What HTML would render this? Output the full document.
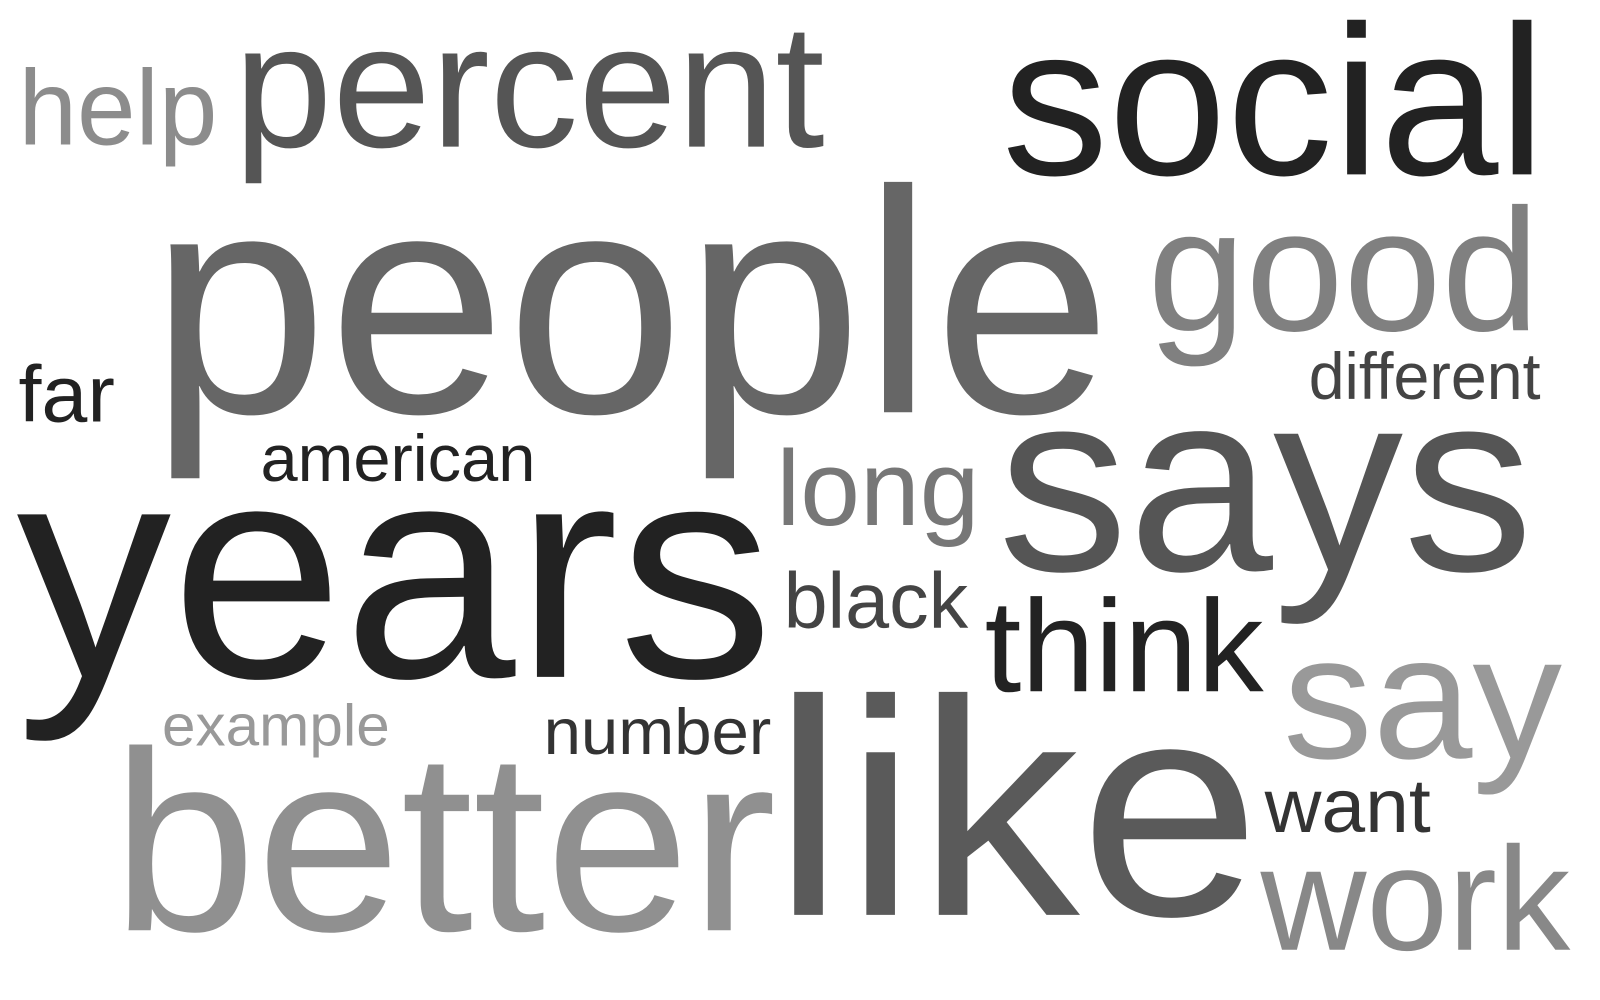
<!DOCTYPE html>
<html>
<head>
<meta charset="utf-8">
<style>
  html, body { margin: 0; padding: 0; background: #ffffff; }
  svg { display: block; }
  text { font-family: "Liberation Sans", Arial, sans-serif; }
</style>
</head>
<body>
<svg id="cloud" width="1600" height="1000" viewBox="0 0 1560 975" xmlns="http://www.w3.org/2000/svg"></svg>
<script>
const words = ["help","percent","social","people","good","far","different","american","long","says","years","black","think","say","example","number","better","like","want","work"];
const sizes = [104,172,208,310,170,78,64,64,104,252,300,77,128,172,57,63,250,300,74,144];
const xs = [18,228,977,146,1119,18,1276,254,757,973,16,764,960,1251,158,530,109,753,1233,1229];
const baselines = [141,143,170,402,322,411,389,469,512,556,660,612,674,739,727,735,907,892,811,926];
const widths = [194,576,530,938,382,94,226,268,198,522,738,180,272,272,222,222,648,476,162,302];
const colors = ["#8c8c8c","#555555","#222222","#666666","#808080","#222222","#444444","#222222","#777777","#555555","#222222","#444444","#222222","#999999","#999999","#333333","#909090","#5a5a5a","#333333","#888888"];

const svg = document.getElementById('cloud');
const NS = "http://www.w3.org/2000/svg";
for (let i = 0; i < words.length; i++) {
  const t = document.createElementNS(NS, 'text');
  t.setAttribute('x', xs[i]);
  t.setAttribute('y', baselines[i]);
  t.setAttribute('font-size', sizes[i]);
  t.setAttribute('fill', colors[i]);
  t.setAttribute('textLength', widths[i]);
  t.setAttribute('lengthAdjust', 'spacingAndGlyphs');
  t.textContent = words[i];
  
  
  svg.appendChild(t);
}
</script>
</body>
</html>
